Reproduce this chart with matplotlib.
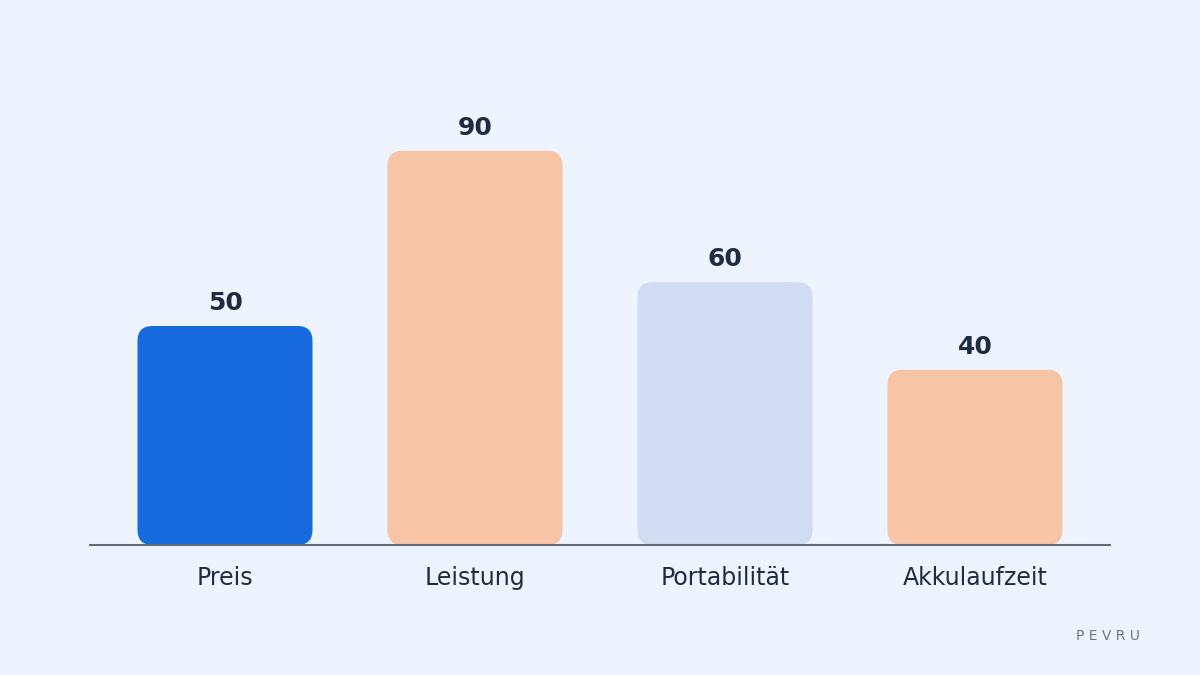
import matplotlib.pyplot as plt
from matplotlib.patches import FancyBboxPatch

# daten
kategorien = ['Preis', 'Leistung', 'Portabilität', 'Akkulaufzeit']
werte = [50, 90, 60, 40]
farben = ['#176BDE', '#F7C4A6', '#D0DCF2', '#F7C4A6']

hintergrund = '#EEF4FF'
textfarbe = '#1F2B40'

fig = plt.figure(figsize=(12, 6.75), dpi=100, facecolor=hintergrund)
# achse in pixeln: links 90, rechts 1110, unten 545, oben 107
ax = fig.add_axes([90 / 1200, 130 / 675, 1020 / 1200, 438 / 675])
ax.set_facecolor(hintergrund)

x = list(range(len(kategorien)))
ax.set_xlim(-0.54, 3.54)
ax.set_ylim(0, 100)

# balken mit runden ecken
balken_breite = 0.7
px_x = 1020 / 4.08
px_y = 438 / 100
aspekt = px_x / px_y
radius = 15 / px_x
for xi, w, f in zip(x, werte, farben):
    p = FancyBboxPatch((xi - balken_breite / 2, 0), balken_breite, w,
                       boxstyle=f'round,pad=0,rounding_size={radius}',
                       mutation_aspect=aspekt, facecolor=f, edgecolor='none', zorder=2)
    ax.add_patch(p)
    ax.annotate(str(w), (xi, w), xytext=(0, 8), textcoords='offset points',
                ha='center', va='bottom', fontsize=18, fontweight='bold', color=textfarbe)

for s in ['top', 'right', 'left']:
    ax.spines[s].set_visible(False)
ax.spines['bottom'].set_color('#5F6B7B')
ax.spines['bottom'].set_linewidth(1.5)
ax.spines['bottom'].set_zorder(3)

ax.set_yticks([])
ax.set_xticks(x)
ax.set_xticklabels(kategorien, fontsize=17, color=textfarbe)
ax.tick_params(axis='x', length=0, pad=15)

fig.text(1140 / 1200, (675 - 636) / 675, 'P E V R U', ha='right', va='center',
         fontsize=10, color='#6B7787')

fig.savefig('out.png', dpi=100, facecolor=hintergrund)
